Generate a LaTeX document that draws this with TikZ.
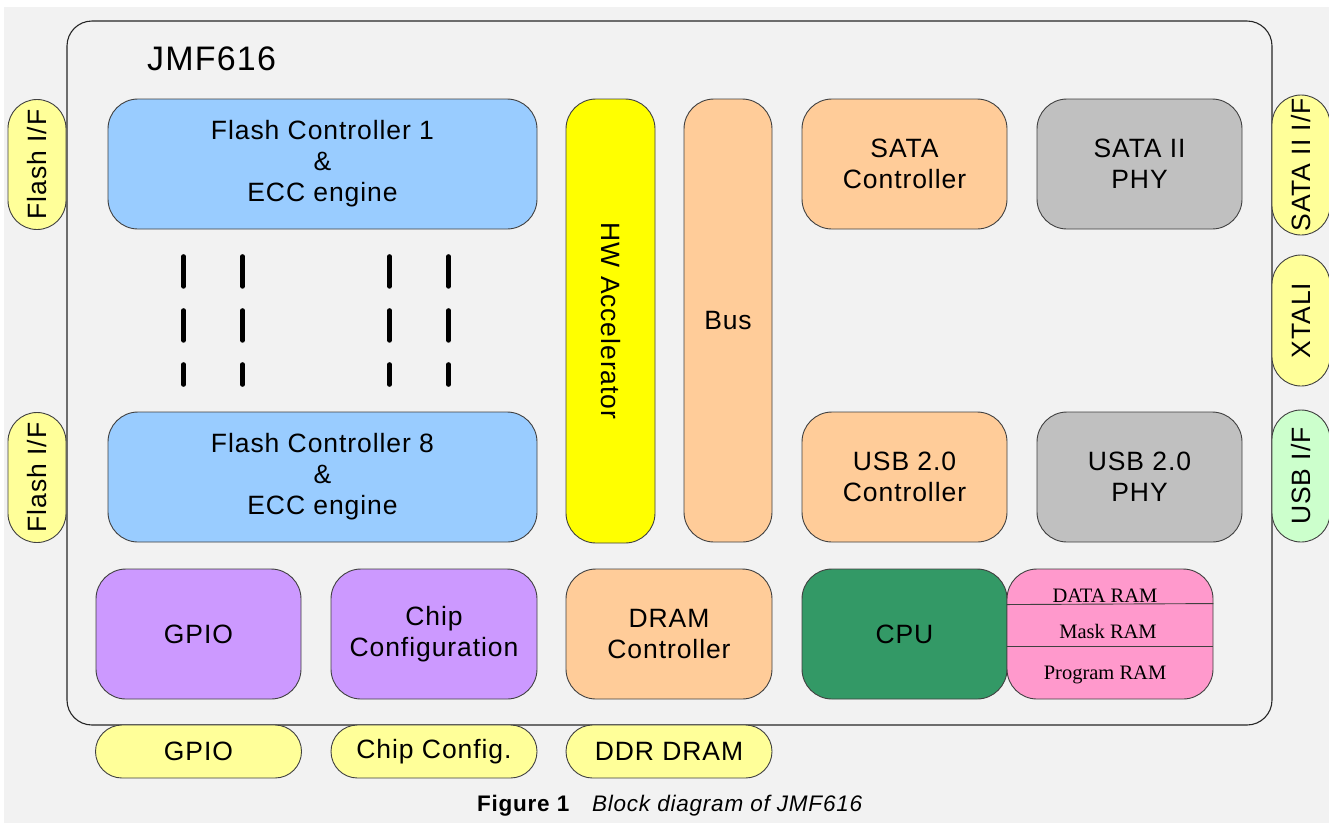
\documentclass[tikz,border=0pt]{standalone}
\usepackage{fontspec}
\setmainfont{Liberation Sans}
\newfontfamily\wide[LetterSpace=3.5]{Liberation Sans}
\newfontfamily\capfont[LetterSpace=3.5]{Liberation Sans}
\newfontfamily\ramfont{Liberation Serif}
\usetikzlibrary{calc}
\definecolor{bg}{HTML}{F2F2F2}
\definecolor{blueF}{HTML}{99CCFF}
\definecolor{peach}{HTML}{FFCC99}
\definecolor{grayP}{HTML}{C0C0C0}
\definecolor{purp}{HTML}{CC99FF}
\definecolor{pillY}{HTML}{FFFF99}
\definecolor{hwY}{HTML}{FFFF00}
\definecolor{pillG}{HTML}{CCFFCC}
\definecolor{pinkR}{HTML}{FF99CC}
\definecolor{cpuG}{HTML}{339966}
\definecolor{edge}{HTML}{404040}
\begin{document}
\begin{tikzpicture}[x=1pt,y=-1pt,
  blk/.style={draw=edge, line width=0.9pt, rounded corners=30pt, align=center,
    font=\wide\fontsize{26.5}{31}\selectfont, inner sep=0pt, text=black},
  bigblk/.style={blk, minimum width=205pt, minimum height=130pt},
  pill/.style={draw=edge, line width=0.9pt, align=center,
    font=\wide\fontsize{26.5}{31}\selectfont, inner sep=0pt},
  vpill/.style={pill, fill=pillY, rotate=90, minimum height=58pt, rounded corners=29pt},
  hpill/.style={pill, fill=pillY, minimum width=206pt, minimum height=53pt, rounded corners=26.5pt},
  ramtxt/.style={font=\ramfont\fontsize{20.5}{24}\selectfont, anchor=base, inner sep=0pt},
  dashcol/.style={line width=4.5pt, line cap=round, dash pattern=on 30pt off 24pt}
]
\useasboundingbox (0,0) rectangle (1329,823);
\fill[bg] (4,7) rectangle (1329,823);

% main chip outline
\node[draw=black!85, line width=1.1pt, rounded corners=25pt, minimum width=1205pt,
  minimum height=704pt, inner sep=0pt] (jmf) at (669.5,373) {};
\node[anchor=base west, inner sep=0pt, font=\wide\fontsize{34}{40}\selectfont] (title) at (147,70) {JMF616};

% flash controllers
\node[blk, fill=blueF, minimum width=429pt, minimum height=130pt] (fc1) at (322.5,164) {Flash Controller 1\\\&\\ECC engine};
\node[blk, fill=blueF, minimum width=429pt, minimum height=130pt] (fc8) at (322.5,477) {Flash Controller 8\\\&\\ECC engine};

% dashes between controllers
\foreach \dx/\nm in {76/a,135/b,282/c,341/d}{
  \coordinate (t\nm) at ($(fc1.south west)+(\dx,27)$);
  \coordinate (b\nm) at ($(fc8.north west)+(\dx,-27)$);
  \draw[dashcol] (t\nm) -- (b\nm);
}

% HW accelerator and bus
\node[blk, fill=hwY, minimum width=89pt, minimum height=444pt] (hw) at (610.5,321) {};
\node[font=\wide\fontsize{26.5}{31}\selectfont, rotate=-90, inner sep=0pt] (hwt) at (hw.center) {HW Accelerator};
\node[blk, fill=peach, minimum width=88pt, minimum height=443pt] (bus) at (728,320.5) {Bus};

% SATA / USB
\node[bigblk, fill=peach] (sata) at (904.5,164) {SATA\\Controller};
\node[bigblk, fill=grayP] (sphy) at (1139.5,164) {SATA II\\PHY};
\node[bigblk, fill=peach] (usbc) at (904.5,477) {USB 2.0\\Controller};
\node[bigblk, fill=grayP] (uphy) at (1139.5,477) {USB 2.0\\PHY};

% bottom row
\node[bigblk, fill=purp] (gpio) at (198.5,634) {GPIO};
\node[bigblk, fill=purp, minimum width=206pt] (chip) at (434,634) {Chip\\Configuration};
\node[bigblk, fill=peach, minimum width=206pt] (dram) at (669,634) {DRAM\\Controller};
\node[bigblk, fill=cpuG] (cpu) at (904.5,634) {CPU};
\node[bigblk, fill=pinkR, minimum width=206pt] (ram) at (1110,634) {};
\draw[edge, line width=0.9pt] ($(ram.north west)+(0,36)$) -- ($(ram.north east)+(0,35)$);
\draw[edge, line width=0.9pt] ($(ram.north west)+(0,78)$) -- ($(ram.north east)+(0,78)$);
\node[ramtxt] (r1) at (1105,602) {DATA RAM};
\node[ramtxt] (r2) at (1108,638) {Mask RAM};
\node[ramtxt] (r3) at (1105,679) {Program RAM};

% interface pills left
\node[vpill, minimum width=130pt] (fif1) at (37,164.5) {Flash I/F};
\node[vpill, minimum width=130pt] (fif2) at (37,477.5) {Flash I/F};

% interface pills right
\node[vpill, minimum width=140pt] (sif) at (1301,165) {SATA II I/F};
\node[vpill, minimum width=131pt] (xtal) at (1301,320.5) {XTALI};
\node[vpill, fill=pillG, minimum width=132pt] (uif) at (1301,476) {USB I/F};

% interface pills bottom
\node[hpill] (gpiop) at (198.5,751.5) {GPIO};
\node[hpill] (chipp) at (434,751.5) {Chip Config.};
\node[hpill] (ddrp) at (669,751.5) {DDR DRAM};

% caption
\node[anchor=base, inner sep=0pt, font=\capfont\fontsize{22.5}{26}\selectfont] (cap) at (670,811)
  {\textbf{Figure 1}\hspace{22pt}\textit{Block diagram of JMF616}};
\end{tikzpicture}
\end{document}
